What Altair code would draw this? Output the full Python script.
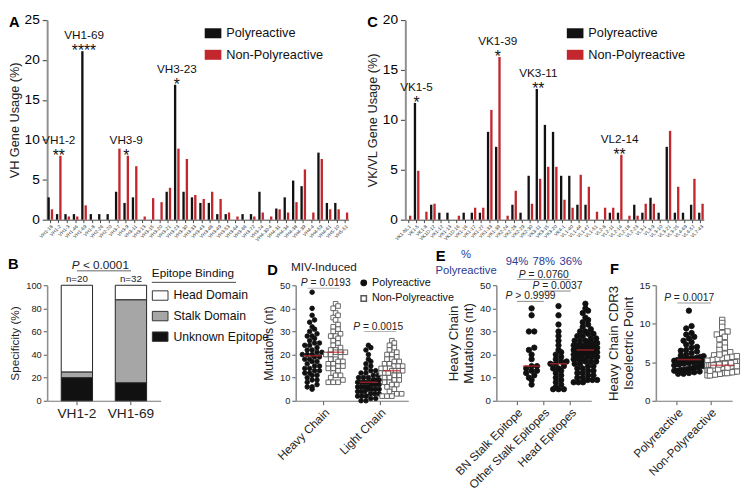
import altair as alt
import pandas as pd

FONT = "Liberation Sans"
BLACK = "#111111"
RED = "#c1272d"
AXG = "#8f8f8f"
BLUE = "#2b3990"
SERIES = ["Polyreactive", "Non-Polyreactive"]
RECT = "M-1,-0.6H1V0.6H-1Z"

# ---------------- Panel A : VH gene usage ----------------
genes_A = ["VH1-18", "VH1-2", "VH1-3", "VH1-46", "VH1-69", "VH1-8", "VH2-26", "VH2-70", "VH3-7", "VH3-9",
           "VH3-11", "VH3-13", "VH3-15", "VH3-20", "VH3-21", "VH3-23", "VH3-30", "VH3-33", "VH3-43", "VH3-48",
           "VH3-49", "VH3-53", "VH3-64", "VH3-66", "VH3-72", "VH3-74", "VH4-30-4", "VH4-31", "VH4-34", "VH4-38",
           "VH4-39", "VH4-4", "VH4-59", "VH4-61", "VH5-10", "VH5-51"]
poly_A = [2.8, 0.7, 0.7, 0.7, 21.1, 0.7, 0.7, 0.7, 3.5, 2.1, 2.8, 0, 0, 0, 3.5, 16.9, 3.5, 2.8, 2.1, 2.1,
          0.7, 0.7, 0, 0.7, 0.7, 3.5, 0, 1.4, 2.8, 4.9, 4.2, 0, 8.4, 2.1, 2.1, 0]
nonpoly_A = [1.3, 8.0, 0.4, 0.4, 1.8, 0, 0, 0, 8.9, 8.0, 6.7, 0.4, 2.7, 2.2, 4.0, 8.9, 7.6, 3.1, 2.6, 3.5,
             2.6, 0.9, 0.4, 0, 0.4, 0.9, 0.4, 1.3, 0.9, 2.2, 6.3, 0.9, 7.6, 1.3, 1.3, 0.9]
ann_A_genes = ["VH1-2", "VH1-69", "VH3-9", "VH3-23"]
ann_A_tops = [8.0, 21.1, 8.0, 16.9]
ann_A_stars = ["**", "****", "*", "*"]

# ---------------- Panel C : VK/VL gene usage ----------------
genes_C = ["VK1-NL1", "VK1-5", "VK1-8", "VK1D-12", "VK1-12", "VK1-13", "VK1D-16", "VK1-16", "VK1-17", "VK1-27",
           "VK1-33", "VK1-39", "VK2-24", "VK2-28", "VK2-29", "VK2-30", "VK3-11", "VK3-15", "VK3-20", "VK4-1",
           "VL1-40", "VL1-44", "VL1-47", "VL1-51", "VL2-8", "VL2-11", "VL2-14", "VL2-18", "VL2-23", "VL3-1",
           "VL3-9", "VL3-10", "VL3-21", "VL3-25", "VL4-69", "VL6-57", "VL7-43"]
poly_C = [0, 11.7, 0, 1.5, 0.7, 0.7, 0, 0.7, 0.7, 0.7, 8.8, 7.3, 0, 1.5, 0.7, 4.4, 13.1, 9.5, 8.8, 4.4,
          4.4, 1.5, 1.5, 0, 0, 0.7, 0.7, 0, 1.5, 0.7, 2.2, 0.7, 7.3, 0.7, 0.7, 1.5, 0.7]
nonpoly_C = [0.4, 4.9, 0.8, 1.6, 0, 0, 0.4, 0, 1.2, 1.2, 11.0, 16.3, 0.4, 2.9, 0, 1.6, 4.1, 5.3, 5.3, 2.0,
             1.2, 4.5, 3.3, 0.8, 1.2, 1.2, 6.5, 0.4, 0.4, 1.6, 1.6, 0, 8.9, 3.3, 0, 4.1, 1.6]
ann_C_genes = ["VK1-5", "VK1-39", "VK3-11", "VL2-14"]
ann_C_tops = [11.7, 16.3, 13.1, 6.5]
ann_C_stars = ["*", "*", "**", "**"]

# ---------------- Panel B : epitope specificity ----------------
b_cats = ["VH1-2", "VH1-69"]
b_unknown = [20.0, 15.6]
b_stalk = [5.0, 71.9]
b_head = [75.0, 12.5]
b_counts = ["n=20", "n=32"]
epitopes = ["Head Domain", "Stalk Domain", "Unknown Epitope"]

# ---------------- Panel D : mutations ----------------
d_cats = ["Heavy Chain", "Light Chain"]
d_heavy_poly = [47, 40, 37, 35, 34, 32, 31, 30, 29, 28, 28, 27, 26, 25, 25, 24, 24, 23, 22, 22, 21, 21, 20, 20,
                20, 19, 19, 18, 18, 17, 17, 16, 15, 15, 14, 14, 13, 13, 12, 12, 11, 11, 10, 9, 9, 8, 7, 6, 6, 5]
d_heavy_non = [42, 41, 40, 38, 37, 36, 35, 33, 32, 31, 30, 29, 28, 28, 27, 26, 25, 24, 23, 22, 22, 21, 21, 21,
               20, 20, 19, 18, 18, 17, 17, 16, 16, 15, 15, 14, 14, 13, 12, 11, 11, 10, 9, 8, 8, 8]
d_light_poly = [24, 23, 22, 20, 18, 17, 16, 15, 14, 13, 13, 12, 12, 11, 11, 10, 10, 10, 9, 9, 9, 8, 8, 8, 8, 8,
                7, 7, 7, 6, 6, 6, 6, 5, 5, 5, 5, 4, 4, 4, 3, 3, 3, 2, 2, 2, 1, 1, 0, 0]
d_light_non = [26, 25, 24, 23, 22, 21, 20, 20, 19, 18, 18, 17, 17, 16, 16, 15, 15, 15, 14, 14, 14, 13, 13, 13,
               13, 12, 12, 12, 11, 11, 10, 10, 9, 9, 8, 8, 7, 7, 6, 5, 4, 3, 3, 2, 2, 2]

# ---------------- Panel E : heavy chain mutations by epitope ----------------
e_cats = ["BN Stalk Epitope", "Other Stalk Epitopes", "Head Epitopes"]
e_pct = ["94%", "78%", "36%"]
e_bn = [40, 37, 30, 30, 23, 22, 20, 18, 15, 15, 14, 13, 13, 12, 11, 10, 9, 7]
e_other = [41, 37, 33, 30, 28, 26, 24, 22, 21, 20, 19, 18, 17, 17, 16, 16, 15, 14, 14, 13, 12, 11, 10, 9, 8,
           7, 6, 5, 5, 5]
e_head = [42, 40, 39, 38, 36, 35, 34, 33, 32, 31, 30, 30, 29, 29, 28, 28, 27, 27, 26, 26, 26, 25, 25, 25, 24,
          24, 24, 24, 23, 23, 23, 23, 23, 22, 22, 22, 22, 22, 22, 22, 22, 21, 21, 21, 21, 21, 20, 20, 20, 20,
          19, 19, 19, 18, 18, 18, 17, 17, 17, 16, 16, 15, 15, 14, 14, 13, 13, 12, 12, 11, 11, 10, 10, 9, 9,
          8, 8, 8, 9, 22]

# ---------------- Panel F : CDR3 isoelectric point ----------------
f_cats = ["Polyreactive", "Non-Polyreactive"]
f_poly = [11.7, 9.7, 9.4, 8.8, 8.6, 8.3, 8.1, 7.6, 7.3, 7.0, 6.9, 6.6, 6.4, 6.2, 6.0, 5.9, 5.8, 5.7, 5.6, 5.5,
          5.4, 5.4, 5.3, 5.3, 5.2, 5.1, 5.0, 5.0, 4.9, 4.8, 4.7, 4.6, 4.5, 4.4, 4.3, 4.2, 4.1, 4.0, 4.0, 3.9,
          3.8, 3.7, 3.6, 3.5, 3.5, 6.5, 7.8, 5.5, 4.5, 3.9]
f_non = [10.5, 10.1, 9.6, 9.0, 8.8, 8.6, 8.3, 8.0, 7.5, 7.2, 6.9, 6.6, 6.3, 6.1, 5.9, 5.7, 5.5, 5.4, 5.3, 5.2,
         5.1, 5.0, 4.9, 4.9, 4.8, 4.8, 4.7, 4.7, 4.6, 4.6, 4.6, 4.5, 4.5, 4.5, 4.4, 4.4, 4.4, 4.3, 4.3, 4.3,
         4.2, 4.2, 4.2, 4.1, 4.1, 4.0, 4.0, 4.0, 3.9, 3.9, 3.8, 3.8, 3.7, 3.7, 3.6, 3.6, 3.5, 3.5, 3.4, 3.4,
         3.3, 3.3, 5.6, 5.8, 6.0, 4.6, 4.8, 5.0, 4.1, 3.9, 4.3, 3.6, 4.5, 4.7, 4.9]

CW = {".": 0.278, " ": 0.278, "=": 0.584, "<": 0.584, ">": 0.584}


def tw(s, size):
    return sum(CW.get(ch, 0.556) for ch in s) * size


def letter_layer(letter, x, y):
    return alt.Chart(pd.DataFrame({"t": [letter]})).mark_text(
        font=FONT, fontSize=15, fontWeight="bold", align="left", baseline="top", color="#000"
    ).encode(text="t:N", x=alt.value(x), y=alt.value(y))


def xq(field, xs, axis):
    return alt.X(field, scale=xs, axis=axis)


def yq(field, ys, axis):
    return alt.Y(field, scale=ys, axis=axis)


def p_text(xs, xaxis, ys, yaxis, xcat, y, rest, center_dx, size=10.5, dy=-2):
    # "P" in italics followed by the rest; SVG drops leading blanks, so the gap is added to dx
    wp = 0.667 * size
    gap = 0.278 * size
    start = center_dx - (wp + gap + tw(rest, size)) / 2
    d = pd.DataFrame({"x": [xcat], "y": [y], "p": ["P"], "rest": [rest]})
    base = alt.Chart(d).encode(x=xq("x:N", xs, xaxis), y=yq("y:Q", ys, yaxis))
    p = base.mark_text(font=FONT, fontStyle="italic", fontSize=size, align="left", baseline="alphabetic",
                       dx=start, dy=dy, color="#222").encode(text="p:N")
    r = base.mark_text(font=FONT, fontSize=size, align="left", baseline="alphabetic",
                       dx=start + wp + gap, dy=dy, color="#222").encode(text="rest:N")
    return [p, r]


def usage_panel(genes, poly, nonpoly, ann_genes, ann_tops, ann_stars, ymax, ytitle, letter, width, height, leg_x):
    n = len(genes)
    df = pd.DataFrame({"gene": genes + genes,
                       "series": [SERIES[0]] * n + [SERIES[1]] * n,
                       "value": poly + nonpoly})
    xs = alt.Scale(type="band", domain=genes, paddingInner=0.25, paddingOuter=0)
    ys = alt.Scale(domain=[0, ymax], nice=False)
    xaxis = alt.Axis(title=None, labelAngle=-45, labelFontSize=5, labelPadding=1, tickSize=3,
                     tickColor="#444", domainColor="#444", domainWidth=1, labelColor="#333", labelOverlap=False)
    yaxis = alt.Axis(title=ytitle, values=list(range(0, ymax + 1, 5)), labelFontSize=14, titleFontSize=13,
                     tickSize=5, labelPadding=3, titlePadding=3, domainColor=AXG, domainWidth=2,
                     tickColor="#555", tickWidth=1.2, labelOverlap=False)
    bars = alt.Chart(df).mark_bar().encode(
        x=alt.X("gene:N", scale=xs, sort=genes, axis=xaxis),
        xOffset=alt.XOffset("series:N", scale=alt.Scale(domain=SERIES, paddingInner=0.3, paddingOuter=0.1)),
        y=alt.Y("value:Q", scale=ys, axis=yaxis),
        color=alt.Color("series:N", scale=alt.Scale(domain=SERIES, range=[BLACK, RED]),
                        legend=alt.Legend(title=None, orient="none", legendX=leg_x, legendY=5,
                                          symbolType=RECT, symbolSize=289, symbolStrokeWidth=0,
                                          labelFontSize=13, labelFont=FONT, rowPadding=6, labelOffset=5,
                                          labelColor="#111")),
    )
    ann = pd.DataFrame({"gene": ann_genes, "value": ann_tops, "stars": ann_stars})
    ab = alt.Chart(ann).encode(x=xq("gene:N", xs, xaxis), y=yq("value:Q", ys, yaxis))
    stars = ab.mark_text(font=FONT, fontSize=16, baseline="alphabetic", dy=5, color="#111").encode(text="stars:N")
    labels = ab.mark_text(font=FONT, fontSize=12, baseline="alphabetic", dy=-12, color="#111").encode(text="gene:N")
    return alt.layer(bars, stars, labels, letter_layer(letter, -39, -5)).properties(width=width, height=height)


def swarm_df(cats, series, values):
    rows = []
    for c, s, vals in zip(cats, series, values):
        for v in vals:
            rows.append({"cat": c, "series": s, "value": v})
    return pd.DataFrame(rows)


def swarm_layers(df, xs, xaxis, ys, yaxis, half, ybin, sp, maxw, shift_expr, size, tick_len, legend):
    offs = alt.Scale(domain=[-half, half], nice=False, zero=False)
    base = alt.Chart(df).transform_calculate(
        b=f"floor(datum.value / {ybin})",
        shift=shift_expr,
    ).transform_joinaggregate(
        n="count()", groupby=["cat", "series", "b"]
    ).transform_window(
        r="row_number()", groupby=["cat", "series", "b"], sort=[alt.SortField("value", order="ascending")]
    ).transform_calculate(
        off=f"datum.shift + (datum.r - 1 - (datum.n - 1) / 2) * (datum.n > 1 ? min({sp}, {maxw} / (datum.n - 1)) : 0)"
    )
    pts = base.mark_point(filled=True, size=size, strokeWidth=0.9, opacity=1).encode(
        x=alt.X("cat:N", scale=xs, axis=xaxis),
        xOffset=alt.XOffset("off:Q", scale=offs),
        y=alt.Y("value:Q", scale=ys, axis=yaxis),
        fill=alt.Fill("series:N", scale=alt.Scale(domain=SERIES, range=[BLACK, "#ffffff"]), legend=legend),
        stroke=alt.Stroke("series:N", scale=alt.Scale(domain=SERIES, range=[BLACK, "#555555"]), legend=legend),
        shape=alt.Shape("series:N", scale=alt.Scale(domain=SERIES, range=["circle", "square"]), legend=legend),
    )
    med = alt.Chart(df).transform_aggregate(
        med="median(value)", groupby=["cat", "series"]
    ).transform_calculate(shift=shift_expr).mark_tick(color=RED, thickness=1.6, size=tick_len).encode(
        x=xq("cat:N", xs, xaxis),
        xOffset=alt.XOffset("shift:Q", scale=offs),
        y=yq("med:Q", ys, yaxis),
    )
    return [pts, med]


def yax(title, values, lsize=9.5, tsize=12.5, tpad=4):
    return alt.Axis(title=title, values=values, labelFontSize=lsize, titleFontSize=tsize, tickSize=4,
                    labelPadding=2, titlePadding=tpad, domainColor=AXG, domainWidth=1.6, tickColor="#555",
                    labelColor="#222", labelOverlap=False)


def xax(lsize=12):
    return alt.Axis(title=None, labelAngle=-45, labelFontSize=lsize, tickSize=4, labelPadding=2,
                    domainColor="#777", domainWidth=1.2, tickColor="#555", labelColor="#222", labelOverlap=False)


# ---------- A & C ----------
chartA = usage_panel(genes_A, poly_A, nonpoly_A, ann_A_genes, ann_A_tops, ann_A_stars, 25,
                     "VH Gene Usage (%)", "A", 308, 204, 161)
chartC = usage_panel(genes_C, poly_C, nonpoly_C, ann_C_genes, ann_C_tops, ann_C_stars, 20,
                     "VK/VL Gene Usage (%)", "C", 305, 204, 165)

# ---------- B ----------
dfB = pd.DataFrame({"cat": b_cats * 3,
                    "epitope": ["Unknown Epitope"] * 2 + ["Stalk Domain"] * 2 + ["Head Domain"] * 2,
                    "value": b_unknown + b_stalk + b_head})
xsB = alt.Scale(type="band", domain=b_cats, paddingInner=0.42, paddingOuter=0.26)
ysB = alt.Scale(domain=[0, 100], nice=False)
xaxB = alt.Axis(title=None, labelAngle=0, labelFontSize=14, tickSize=4, labelPadding=2, domainColor="#777",
                domainWidth=1.2, tickColor="#555", labelColor="#222", labelOverlap=False)
yaxB = yax("Specificity (%)", [0, 20, 40, 60, 80, 100], 9.5, 12)
barsB = alt.Chart(dfB).transform_calculate(
    ord="datum.epitope == 'Unknown Epitope' ? 0 : (datum.epitope == 'Stalk Domain' ? 1 : 2)"
).mark_bar(stroke="#222", strokeWidth=1, size=32).encode(
    x=alt.X("cat:N", scale=xsB, axis=xaxB),
    y=alt.Y("value:Q", stack="zero", scale=ysB, axis=yaxB),
    color=alt.Color("epitope:N", scale=alt.Scale(domain=epitopes, range=["#ffffff", "#a6a6a6", BLACK]),
                    legend=alt.Legend(title="Epitope Binding", orient="none", legendX=107, legendY=-17,
                                      symbolType=RECT, symbolSize=256, symbolStrokeColor="#333",
                                      symbolStrokeWidth=1, labelFontSize=12.5, titleFontSize=12,
                                      titleFontWeight="normal", titleFont=FONT, labelFont=FONT,
                                      rowPadding=5, titlePadding=7, labelOffset=5, labelColor="#111",
                                      titleColor="#111")),
    order=alt.Order("ord:Q"),
)
ruleB = alt.Chart(pd.DataFrame({"x1": [b_cats[0]], "x2": [b_cats[1]], "y": [112.5]})).mark_rule(
    color="#999", strokeWidth=1.5).encode(x=xq("x1:N", xsB, xaxB), x2="x2:N", y=yq("y:Q", ysB, yaxB))
nB = alt.Chart(pd.DataFrame({"cat": b_cats, "y": [102.5, 102.5], "t": b_counts})).mark_text(
    font=FONT, fontSize=10, baseline="alphabetic", color="#222").encode(
    x=xq("cat:N", xsB, xaxB), y=yq("y:Q", ysB, yaxB), text="t:N")
underB = alt.Chart(pd.DataFrame({"u": [0]})).mark_rule(color="#444", strokeWidth=1).encode(
    x=alt.value(107), x2=alt.value(193), y=alt.value(-3))
chartB = alt.layer(barsB, ruleB, nB, underB,
                   *p_text(xsB, xaxB, ysB, yaxB, b_cats[0], 112.5, "< 0.0001", 24, size=12),
                   letter_layer("B", -40, -29)).properties(width=116, height=118)

# ---------- D ----------
dfD = swarm_df([d_cats[0], d_cats[0], d_cats[1], d_cats[1]],
               [SERIES[0], SERIES[1], SERIES[0], SERIES[1]],
               [d_heavy_poly, d_heavy_non, d_light_poly, d_light_non])
xsD = alt.Scale(type="band", domain=d_cats, paddingInner=0, paddingOuter=0)
ysD = alt.Scale(domain=[0, 50], nice=False)
xaxD = xax(12)
yaxD = yax("Mutations (nt)", [0, 10, 20, 30, 40, 50], 9.5, 12.5)
legD = alt.Legend(title=None, orient="none", legendX=64, legendY=-8, labelFontSize=11, labelFont=FONT,
                  symbolSize=30, rowPadding=3, labelOffset=3, labelColor="#111")
layersD = swarm_layers(dfD, xsD, xaxD, ysD, yaxD,
                       57.5 / 2, 2, 5, 22, "datum.series == 'Polyreactive' ? -12 : 12", 22, 18, legD)
bracketD = alt.Chart(pd.DataFrame({"cat": d_cats, "y": [48.7, 30.0]})).mark_tick(
    color="#999", thickness=1.2, size=33).encode(x=xq("cat:N", xsD, xaxD), y=yq("y:Q", ysD, yaxD))
mivD = alt.Chart(pd.DataFrame({"cat": [d_cats[0]], "y": [56.0], "t": ["MIV-Induced"]})).mark_text(
    font=FONT, fontSize=12, baseline="alphabetic", color="#222").encode(
    x=xq("cat:N", xsD, xaxD), y=yq("y:Q", ysD, yaxD), text="t:N")
chartD = alt.layer(*layersD, bracketD, mivD,
                   *p_text(xsD, xaxD, ysD, yaxD, d_cats[0], 48.7, "= 0.0193", 2),
                   *p_text(xsD, xaxD, ysD, yaxD, d_cats[1], 30.0, "= 0.0015", -2),
                   letter_layer("D", -29, -22)).properties(width=115, height=118)

# ---------- E ----------
dfE = swarm_df(e_cats, [SERIES[0]] * 3, [e_bn, e_other, e_head])
xsE = alt.Scale(type="band", domain=e_cats, paddingInner=0, paddingOuter=0.264)
ysE = alt.Scale(domain=[0, 50], nice=False)
xaxE = xax(12)
yaxE = yax(["Heavy Chain", "Mutations (nt)"], [0, 10, 20, 30, 40, 50], 10, 13.5)
layersE = swarm_layers(dfE, xsE, xaxE, ysE, yaxE, 27.5 / 2, 2, 5.5, 24, "0", 30, 18, None)
bracketsE = alt.Chart(pd.DataFrame({"x1": [e_cats[0], e_cats[1], e_cats[0]],
                                    "x2": [e_cats[2], e_cats[2], e_cats[1]],
                                    "y": [52.5, 47.5, 43.0]})).mark_rule(color="#999", strokeWidth=1.2).encode(
    x=xq("x1:N", xsE, xaxE), x2="x2:N", y=yq("y:Q", ysE, yaxE))
pctE = alt.Chart(pd.DataFrame({"cat": e_cats, "y": [58.6] * 3, "t": e_pct})).mark_text(
    font=FONT, fontSize=11.5, baseline="alphabetic", color=BLUE).encode(
    x=xq("cat:N", xsE, xaxE), y=yq("y:Q", ysE, yaxE), text="t:N")
pctLbl = alt.Chart(pd.DataFrame({"y": [62.0, 55.0], "t": ["%", "Polyreactive"]})).mark_text(
    font=FONT, fontSize=11.5, baseline="alphabetic", color=BLUE).encode(
    x=alt.value(-31), y=yq("y:Q", ysE, yaxE), text="t:N")
chartE = alt.layer(*layersE, bracketsE, pctE, pctLbl,
                   *p_text(xsE, xaxE, ysE, yaxE, e_cats[1], 52.5, "= 0.0760", 0),
                   *p_text(xsE, xaxE, ysE, yaxE, e_cats[1], 47.5, "= 0.0037", 14),
                   *p_text(xsE, xaxE, ysE, yaxE, e_cats[0], 43.0, "> 0.9999", 14),
                   letter_layer("E", -62, -37)).properties(width=97, height=118)

# ---------- F ----------
dfF = swarm_df(f_cats, SERIES, [f_poly, f_non])
xsF = alt.Scale(type="band", domain=f_cats, paddingInner=0, paddingOuter=0.147)
ysF = alt.Scale(domain=[0, 15], nice=False)
xaxF = xax(12)
yaxF = yax(["Heavy Chain CDR3", "Isoelectric Point"], [0, 5, 10, 15], 10, 13.5)
layersF = swarm_layers(dfF, xsF, xaxF, ysF, yaxF, 17, 0.65, 5.5, 30, "0", 30, 24, None)
bracketF = alt.Chart(pd.DataFrame({"x1": [f_cats[0]], "x2": [f_cats[1]], "y": [12.7]})).mark_rule(
    color="#999", strokeWidth=1.2).encode(x=xq("x1:N", xsF, xaxF), x2="x2:N", y=yq("y:Q", ysF, yaxF))
chartF = alt.layer(*layersF, bracketF,
                   *p_text(xsF, xaxF, ysF, yaxF, f_cats[0], 12.7, "= 0.0017", 12),
                   letter_layer("F", -47, -24)).properties(width=78, height=118)


def spacer(w, h):
    return alt.Chart(pd.DataFrame({"s": [0]})).mark_point(opacity=0).encode(
        x=alt.value(0), y=alt.value(0)).properties(width=w, height=h)


IND = dict(color="independent", fill="independent", stroke="independent", shape="independent")

row1 = alt.hconcat(chartA, chartC, spacing=58, bounds="flush").resolve_scale(**IND).resolve_legend(**IND)
row2 = alt.hconcat(chartB, spacer(118, 118), chartD, spacer(70, 118), chartE, spacer(46, 118), chartF,
                   spacing=10, bounds="flush").resolve_scale(**IND).resolve_legend(**IND)

chart = alt.vconcat(row1, row2, spacing=6).resolve_scale(**IND).resolve_legend(**IND).properties(
    padding={"left": 0, "top": 0, "right": 0, "bottom": 0}
).configure(font=FONT).configure_view(stroke=None).configure_axis(
    labelFont=FONT, titleFont=FONT, titleFontWeight="normal", grid=False, titleColor="#222"
).configure_legend(labelFont=FONT, titleFont=FONT)

chart.save("out.html", embed_options={"renderer": "svg", "actions": False})
